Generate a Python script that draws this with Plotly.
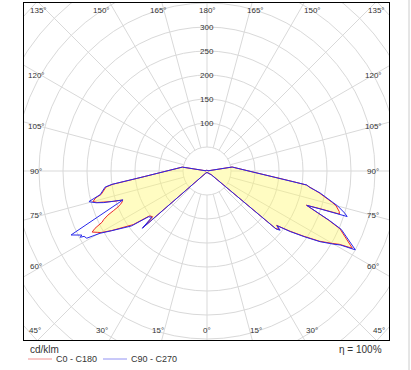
import numpy as np
import plotly.graph_objects as go

# ---------------- data (cd/klm) ----------------
# right half (C0 red, C90 blue), gamma measured from nadir
gamma_right = [0, 30, 45, 49, 50, 51, 52, 53, 54, 56, 58, 60, 61, 62, 63, 64, 65, 66.5,
               68, 70, 71, 71.5, 72, 73, 74, 75, 76, 77, 78, 79, 80, 81, 82, 83, 84, 85,
               86, 87, 88, 90, 93, 96, 99, 100, 120, 150, 180]
c90 = [3, 5, 8, 12, 188, 196, 185, 200, 215, 245, 278, 305, 318, 350, 338, 328, 318, 305,
       275, 238, 220, 250, 307, 300, 292, 282, 270, 260, 250, 240, 228, 216, 210, 180, 156, 138,
       123, 112, 102, 87, 71, 61, 53, 2, 2, 2, 2]
c0 = [3, 5, 8, 12, 186, 194, 184, 198, 213, 243, 276, 302, 315, 343, 333, 324, 314, 302,
      273, 236, 219, 245, 290, 288, 283, 278, 268, 258, 248, 238, 227, 215, 209, 180, 156, 138,
      123, 112, 102, 87, 71, 61, 53, 2, 2, 2, 2]

# left half (C180 red, C270 blue)
gamma_left = [0, 30, 45, 47, 48.5, 50, 52, 54, 56, 57, 58, 59.8, 60.8, 62, 62.4, 62.9, 64, 64.8,
              66, 67, 68, 69, 70, 71, 72, 73, 74, 75, 75.5, 76.5, 77.5, 79, 81, 82, 83, 84,
              85, 86, 88, 90, 93, 96, 99, 100, 120, 150, 180]
c270 = [3, 5, 8, 12, 180, 150, 155, 195, 215, 224, 235, 258, 287, 290, 298, 293, 305, 313,
        276, 252, 230, 214, 198, 185, 205, 225, 240, 250, 254, 240, 228, 222, 215, 200, 168, 147,
        130, 117, 98, 84, 69, 59, 52, 2, 2, 2, 2]
c180 = [3, 5, 8, 12, 178, 148, 152, 190, 212, 222, 234, 255, 262, 271, 268, 262, 243, 238,
        226, 212, 200, 193, 188, 186, 205, 222, 238, 246, 244, 238, 226, 220, 213, 198, 168, 146,
        130, 117, 98, 84, 69, 59, 52, 2, 2, 2, 2]

ring_values = [50, 100, 150, 200, 250, 300, 350, 400, 450, 500, 550]
ring_labels = [100, 150, 200, 250, 300]
angle_ticks = [0, 15, 30, 45, 60, 75, 90, 105, 120, 135, 150, 165, 180]

series_names = ["C0 - C180", "C90 - C270"]

# ---------------- geometry helpers ----------------
W, H = 411, 370
ML, MR, MT, MB = 24, 22, 3, 30
OX, OY = 207.0, 171.0          # origin in pixels
S = 0.48                        # px per cd/klm
XR = [(ML - OX) / S, (W - MR - OX) / S]
YR = [(OY - (H - MB)) / S, (OY - MT) / S]
PW, PH = W - ML - MR, H - MT - MB


def to_xy(g_right, r_right, g_left, r_left):
    gr = np.radians(np.array(g_right, float))
    gl = np.radians(np.array(g_left, float))[::-1]
    rr = np.array(r_right, float)
    rl = np.array(r_left, float)[::-1]
    x = np.concatenate([rr * np.sin(gr), -rl * np.sin(gl)])
    y = np.concatenate([-rr * np.cos(gr), -rl * np.cos(gl)])
    x = np.append(x, x[0])
    y = np.append(y, y[0])
    return x, y


red_x, red_y = to_xy(gamma_right, c0, gamma_left, c180)
blue_x, blue_y = to_xy(gamma_right, c90, gamma_left, c270)

RED = "rgb(235,40,40)"
BLUE = "rgb(40,40,235)"
GRID = "#d9d9d9"
TXT = "#333333"
FONT = "Liberation Sans"

fig = go.Figure()
fig.add_trace(go.Scatter(x=red_x, y=red_y, mode="lines", line=dict(width=0),
                         fill="toself", fillcolor="rgba(255,248,110,0.42)",
                         showlegend=False, hoverinfo="skip"))
fig.add_trace(go.Scatter(x=red_x, y=red_y, mode="lines", name=series_names[0],
                         line=dict(color=RED, width=1), showlegend=False))
fig.add_trace(go.Scatter(x=blue_x, y=blue_y, mode="lines", name=series_names[1],
                         line=dict(color=BLUE, width=1), showlegend=False))

shapes = []
for r in ring_values:
    shapes.append(dict(type="circle", xref="x", yref="y", x0=-r, x1=r, y0=-r, y1=r,
                       line=dict(color=GRID, width=1), layer="below"))
for a in range(0, 360, 15):
    t = np.radians(a)
    shapes.append(dict(type="line", xref="x", yref="y",
                       x0=50 * np.sin(t), y0=-50 * np.cos(t),
                       x1=900 * np.sin(t), y1=-900 * np.cos(t),
                       line=dict(color=GRID, width=1), layer="below"))


def pxp(px):
    return (px - ML) / PW


def pyp(py):
    return (H - MB - py) / PH


# page edge line on the right
shapes.append(dict(type="line", xref="paper", yref="paper",
                   x0=pxp(409), x1=pxp(409), y0=pyp(H), y1=pyp(0),
                   line=dict(color="#cccccc", width=1)))

annotations = []


def px2data(px, py):
    return (px - OX) / S, (OY - py) / S


for phi in angle_ticks:
    for side in ([1] if phi in (0, 180) else [-1, 1]):
        if phi < 45:
            px, py = OX + side * 182 * np.tan(np.radians(phi)), 330
        elif phi == 45:
            px, py = OX + side * 172, 330
        elif phi > 135:
            px, py = OX + side * 182 * np.tan(np.radians(180 - phi)), 10
        elif phi == 135:
            px, py = OX + side * 169, 10
        else:
            px = OX + side * (171 if side < 0 else 166)
            py = OY + 166 * np.tan(np.radians(90 - phi))
        dx, dy = px2data(px, py)
        annotations.append(dict(x=dx, y=dy, xref="x", yref="y", text=f"{phi}°",
                                showarrow=False, font=dict(size=8, color=TXT, family=FONT)))

for v in ring_labels:
    annotations.append(dict(x=0, y=v, xref="x", yref="y", text=str(v), showarrow=False,
                            font=dict(size=8, color=TXT, family=FONT)))

annotations.append(dict(x=pxp(28), y=pyp(349), xref="paper", yref="paper",
                        text="cd/klm", showarrow=False, xanchor="left", yanchor="middle",
                        font=dict(size=10, color=TXT, family=FONT)))
annotations.append(dict(x=pxp(384), y=pyp(349), xref="paper", yref="paper",
                        text="η = 100%", showarrow=False, xanchor="right", yanchor="middle",
                        font=dict(size=10, color=TXT, family=FONT)))

# custom legend
legend_items = [(series_names[0], RED, 28), (series_names[1], BLUE, 103)]
for name, col, x0 in legend_items:
    shapes.append(dict(type="line", xref="paper", yref="paper",
                       x0=pxp(x0), x1=pxp(x0 + 24), y0=pyp(359), y1=pyp(359),
                       line=dict(color=col, width=1), opacity=0.5))
    annotations.append(dict(x=pxp(x0 + 26), y=pyp(359), xref="paper", yref="paper",
                            text=name, showarrow=False, xanchor="left", yanchor="middle",
                            font=dict(size=9, color=TXT, family=FONT)))

fig.update_layout(
    width=W, height=H,
    margin=dict(l=ML, r=MR, t=MT, b=MB, autoexpand=False),
    paper_bgcolor="white", plot_bgcolor="white",
    xaxis=dict(range=XR, showgrid=False, zeroline=False, showticklabels=False, ticks="",
               showline=True, linecolor="black", linewidth=1, mirror=True, fixedrange=True),
    yaxis=dict(range=YR, showgrid=False, zeroline=False, showticklabels=False, ticks="",
               showline=True, linecolor="black", linewidth=1, mirror=True, fixedrange=True),
    shapes=shapes, annotations=annotations,
    showlegend=False,
)

fig.write_html(
    "out.html",
    config={"displayModeBar": False},
    post_script="document.body.style.margin='0';document.body.style.overflow='hidden';",
)
